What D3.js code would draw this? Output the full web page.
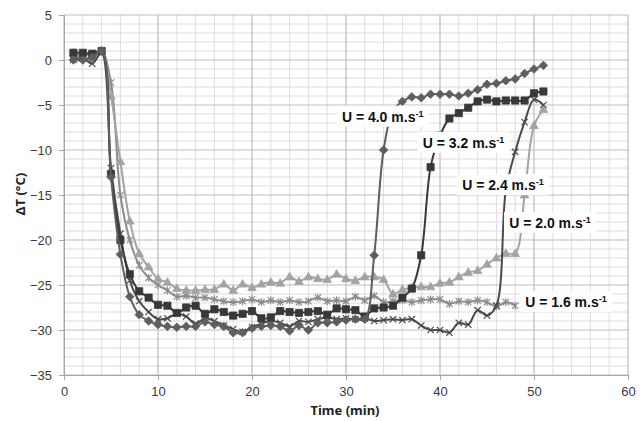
<!DOCTYPE html>
<html>
<head>
<meta charset="utf-8">
<script src="https://cdn.jsdelivr.net/npm/d3@7/dist/d3.min.js"></script>
<style>
  body { margin: 0; background: #fff; }
  svg { display: block; }
</style>
</head>
<body>
<div id="chart"></div>
<script>
// time in minutes, one reading per minute
var minutes = d3.range(1, 52);

var u40 = [0.0, 0.0, 0.3, 1.0, -13.0, -21.6, -26.3, -28.3, -29.0, -29.4,
  -29.6, -29.7, -29.6, -29.6, -29.1, -29.4, -29.6, -30.3, -30.3, -29.8,
  -29.6, -29.5, -29.6, -30.1, -29.5, -30.0, -29.2, -29.2, -29.1, -28.9,
  -28.8, -28.8, -21.7, -10.0, -5.6, -4.6, -4.1, -4.2, -3.8, -3.8,
  -3.8, -4.0, -3.7, -3.3, -2.7, -2.6, -2.3, -2.1, -1.5, -1.0, -0.6];

var u32 = [0.8, 0.8, 0.7, 1.0, -12.7, -20.0, -23.8, -25.7, -26.4, -27.2,
  -27.3, -28.1, -27.5, -27.3, -28.2, -27.7, -28.0, -28.4, -28.2, -27.9,
  -28.7, -28.6, -27.9, -28.0, -28.1, -28.0, -27.9, -28.3, -27.6, -27.7,
  -27.8, -28.5, -27.6, -27.5, -27.3, -26.4, -25.4, -21.7, -11.9, -8.4,
  -6.5, -5.9, -5.3, -4.6, -4.4, -4.6, -4.5, -4.5, -4.5, -3.7, -3.5];

var u24 = [0.0, 0.2, -0.4, 0.8, -12.0, -19.3, -24.5, -26.8, -28.0, -28.8,
  -28.7, -28.2, -28.5, -29.3, -28.7, -29.0, -29.5, -29.9, -30.2, -29.7,
  -29.3, -29.0, -29.2, -29.6, -29.0, -29.1, -28.8, -28.6, -28.8, -28.7,
  -28.8, -28.7, -29.0, -28.9, -28.8, -28.9, -28.8, -29.5, -30.0, -30.0,
  -30.3, -29.2, -29.4, -27.8, -28.4, -27.3, -14.5, -10.2, -6.9, -4.4, -5.0];

var u20 = [0.8, 0.6, 0.6, 1.0, -4.0, -11.3, -17.9, -21.5, -23.0, -24.3,
  -24.7, -25.4, -25.6, -25.6, -25.5, -25.5, -24.9, -25.6, -24.9, -25.3,
  -24.9, -24.7, -24.8, -24.1, -24.6, -24.1, -24.3, -24.4, -23.8, -24.3,
  -24.5, -24.1, -24.1, -24.4, -26.0, -25.5, -25.3, -25.2, -25.2, -24.8,
  -24.7, -24.1, -23.6, -23.4, -22.7, -22.0, -21.5, -21.5, -15.0, -7.3, -5.5];

var u16 = [0.5, 0.3, 0.2, 0.9, -2.5, -15.0, -20.0, -22.8, -24.2, -25.0,
  -25.6, -26.3, -26.2, -26.4, -26.4, -26.6, -26.8, -26.9, -26.8, -26.6,
  -26.9, -26.7, -26.9, -26.7, -26.9, -26.8, -26.4, -26.8, -26.7, -26.8,
  -26.3, -26.7, -26.2, -26.9, -26.8, -26.7, -26.9, -26.7, -26.6, -26.6,
  -27.1, -26.8, -26.9, -26.7, -26.9, -27.4, -26.9, -27.3];

var speeds = ["1.6", "2.0", "2.4", "3.2", "4.0"];
var xTicks = [0, 10, 20, 30, 40, 50, 60];
var yTicks = [5, 0, -5, -10, -15, -20, -25, -30, -35];

// where each "U = ..." note sits, in chart units (min, °C)
var noteTime = [53.4, 51.7, 46.7, 42.5, 33.9];
var noteTemp = [-26.9, -18.1, -13.9, -9.2, -6.3];

var series = [
  {name: "1.6", values: u16, color: "#8c8c8c", marker: "star"},
  {name: "2.0", values: u20, color: "#a3a3a3", marker: "triangle"},
  {name: "2.4", values: u24, color: "#4a4a4a", marker: "cross"},
  {name: "3.2", values: u32, color: "#383838", marker: "square"},
  {name: "4.0", values: u40, color: "#5e5e5e", marker: "diamond"}
];

var width = 644, height = 421;
var margin = {top: 15, right: 16, bottom: 46, left: 64};
var w = width - margin.left - margin.right,
    h = height - margin.top - margin.bottom;

var svg = d3.select("#chart").append("svg")
  .attr("width", width)
  .attr("height", height)
  .style("font-family", "'Noto Sans', 'Liberation Sans', sans-serif");

svg.append("rect").attr("width", width).attr("height", height).attr("fill", "#fff");

var g = svg.append("g")
  .attr("transform", "translate(" + margin.left + "," + margin.top + ")");

var x = d3.scaleLinear().domain([0, 60]).range([0, w]);
var y = d3.scaleLinear().domain([-35, 5]).range([h, 0]);

// minor grid
g.append("g").selectAll("line")
  .data(d3.range(0, 61, 2).filter(function(d) { return d % 10 !== 0; }))
  .enter().append("line")
  .attr("x1", function(d) { return x(d); }).attr("x2", function(d) { return x(d); })
  .attr("y1", 0).attr("y2", h)
  .attr("stroke", "#dcdcdc").attr("stroke-width", 1);
g.append("g").selectAll("line")
  .data(d3.range(-35, 6, 1).filter(function(d) { return d % 5 !== 0; }))
  .enter().append("line")
  .attr("y1", function(d) { return y(d); }).attr("y2", function(d) { return y(d); })
  .attr("x1", 0).attr("x2", w)
  .attr("stroke", "#dcdcdc").attr("stroke-width", 1);

// major grid
g.append("g").selectAll("line")
  .data(xTicks)
  .enter().append("line")
  .attr("x1", function(d) { return x(d); }).attr("x2", function(d) { return x(d); })
  .attr("y1", 0).attr("y2", h)
  .attr("stroke", "#bdbdbd").attr("stroke-width", 1.2);
g.append("g").selectAll("line")
  .data(yTicks)
  .enter().append("line")
  .attr("y1", function(d) { return y(d); }).attr("y2", function(d) { return y(d); })
  .attr("x1", 0).attr("x2", w)
  .attr("stroke", "#bdbdbd").attr("stroke-width", 1.2);

// axes
var xAxis = g.append("g")
  .attr("transform", "translate(0," + h + ")")
  .call(d3.axisBottom(x).tickValues(xTicks).tickSize(5).tickPadding(7));
var yAxis = g.append("g")
  .call(d3.axisLeft(y).tickValues(yTicks).tickSize(5).tickPadding(7));
[xAxis, yAxis].forEach(function(a) {
  a.select(".domain").attr("stroke", "#a6a6a6");
  a.selectAll(".tick line").attr("stroke", "#a6a6a6");
  a.selectAll(".tick text").attr("fill", "#3a3a3a").style("font-size", "13px");
});

svg.append("text")
  .attr("x", margin.left + x(30) - 1)
  .attr("y", 415)
  .attr("text-anchor", "middle")
  .style("font-size", "13px").style("font-weight", "bold")
  .attr("fill", "#222")
  .text("Time (min)");

svg.append("text")
  .attr("transform", "translate(25,194) rotate(-90)")
  .attr("text-anchor", "middle")
  .style("font-size", "13px").style("font-weight", "bold")
  .attr("fill", "#222")
  .text("ΔT (°C)");

var line = d3.line()
  .x(function(d) { return x(d.t); })
  .y(function(d) { return y(d.v); })
  .curve(d3.curveCatmullRom.alpha(0.5));

function markerPath(type) {
  switch (type) {
    case "square": return "M-3.6,-3.6H3.6V3.6H-3.6Z";
    case "diamond": return "M0,-4.3L4.3,0L0,4.3L-4.3,0Z";
    case "triangle": return "M0,-4.6L4.3,3L-4.3,3Z";
    case "cross": return "M-3.2,-3.2L3.2,3.2M-3.2,3.2L3.2,-3.2";
    case "star": return "M-3.2,-3.2L3.2,3.2M-3.2,3.2L3.2,-3.2M0,-4L0,4";
  }
}

series.forEach(function(s) {
  var pts = s.values.map(function(v, i) { return {t: minutes[i], v: v}; });
  var sg = g.append("g");
  sg.append("path")
    .datum(pts)
    .attr("fill", "none")
    .attr("stroke", s.color)
    .attr("stroke-width", 2)
    .attr("d", line);
  var open = s.marker === "cross" || s.marker === "star";
  sg.selectAll("path.mk")
    .data(pts)
    .enter().append("path")
    .attr("class", "mk")
    .attr("transform", function(d) { return "translate(" + x(d.t) + "," + y(d.v) + ")"; })
    .attr("d", markerPath(s.marker))
    .attr("fill", open ? "none" : s.color)
    .attr("stroke", s.color)
    .attr("stroke-width", open ? 1.2 : 0.8);
});

// velocity notes
var notes = g.append("g").style("font-family", "'Liberation Sans', Arial, sans-serif");
speeds.forEach(function(sp, i) {
  var cx = x(noteTime[i]), cy = y(noteTemp[i]);
  var ng = notes.append("g").attr("transform", "translate(" + cx + "," + cy + ")");
  ng.append("rect")
    .attr("x", -46).attr("y", -11).attr("width", 92).attr("height", 21)
    .attr("fill", "#fff");
  var t = ng.append("text")
    .attr("text-anchor", "middle")
    .attr("y", 5)
    .style("font-size", "14px").style("font-weight", "bold")
    .attr("fill", "#111");
  t.append("tspan").text("U = " + sp + " m.s");
  t.append("tspan").attr("dy", -5).style("font-size", "9px").text("-1");
});
</script>
</body>
</html>
